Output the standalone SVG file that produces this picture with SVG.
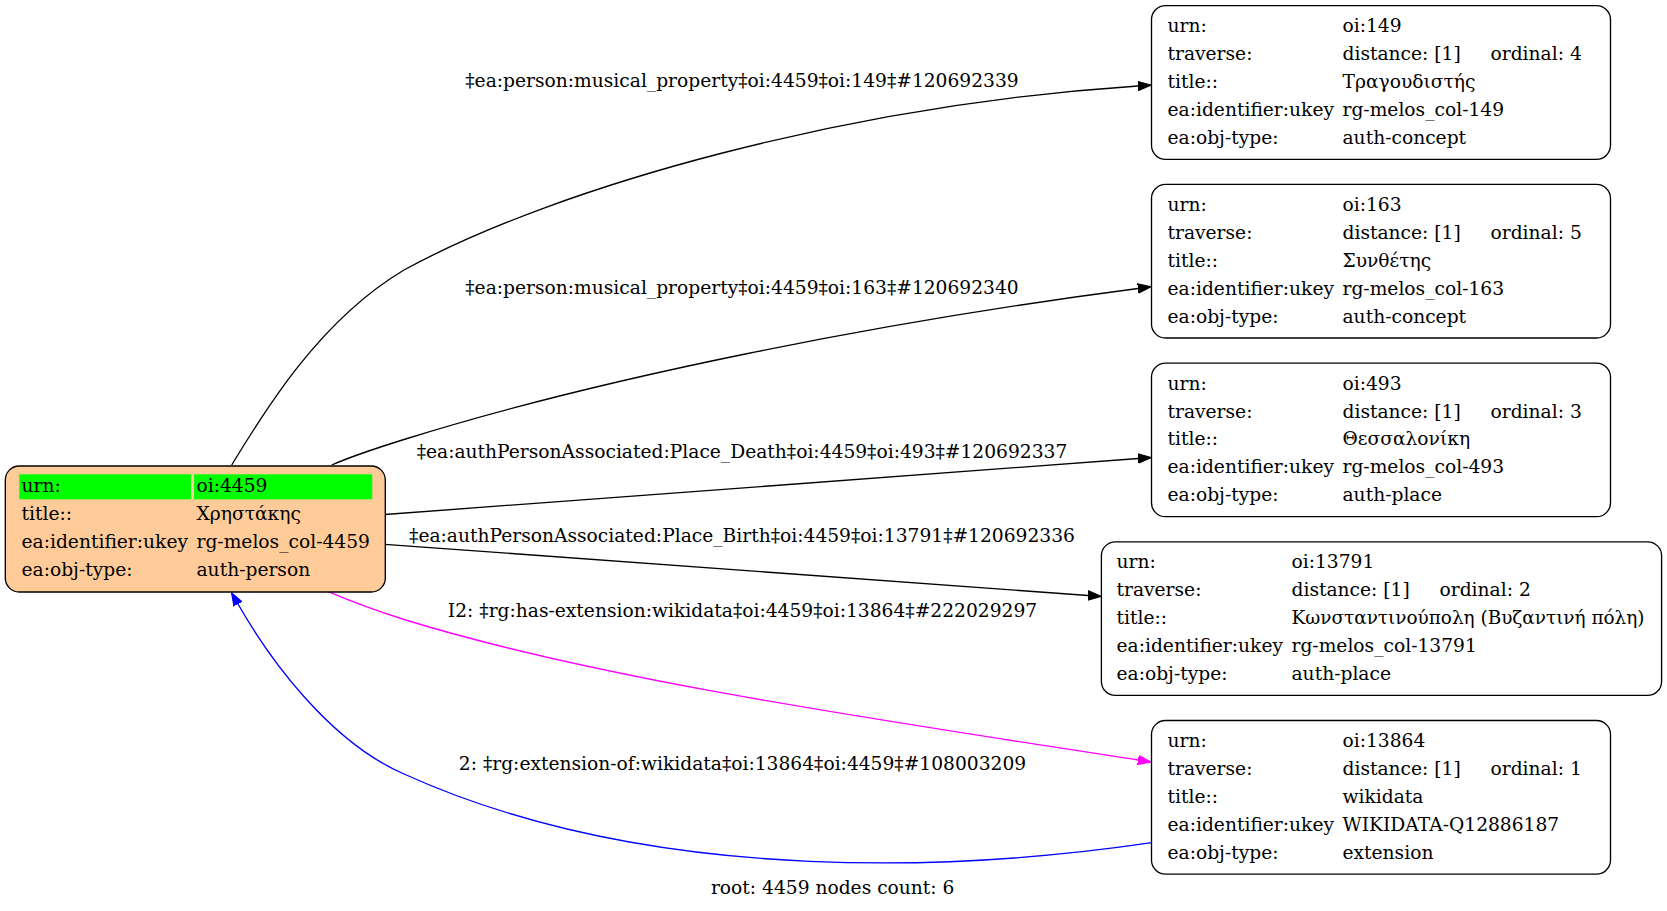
<svg xmlns="http://www.w3.org/2000/svg" width="1667" height="911" viewBox="0 0 1667 911">
<style>
text{font-family:"DejaVu Serif","Liberation Serif",serif;font-size:18.67px;fill:#000}
.lbl{text-anchor:middle}
.box{fill:#fff;stroke:#000;stroke-width:1.33}
.root{fill:#ffcc99;stroke:#000;stroke-width:1.33}
.e{fill:none;stroke-width:1.33}
</style>
<defs>
<marker id="ak" markerUnits="userSpaceOnUse" markerWidth="15" markerHeight="11" refX="0" refY="0" orient="auto" viewBox="0 -5.5 15 11"><path d="M0,-4.7 L13.3,0 L0,4.7 z" fill="#000" stroke="#000" stroke-width="1"/></marker>
<marker id="am" markerUnits="userSpaceOnUse" markerWidth="15" markerHeight="11" refX="0" refY="0" orient="auto" viewBox="0 -5.5 15 11"><path d="M0,-4.7 L13.3,0 L0,4.7 z" fill="#ff00ff" stroke="#ff00ff" stroke-width="1"/></marker>
<marker id="ab" markerUnits="userSpaceOnUse" markerWidth="15" markerHeight="11" refX="0" refY="0" orient="auto" viewBox="0 -5.5 15 11"><path d="M0,-4.7 L13.3,0 L0,4.7 z" fill="#0000ff" stroke="#0000ff" stroke-width="1"/></marker>
</defs>
<rect width="1667" height="911" fill="#fff"/>
<g id="edges">
<path class="e" stroke="#000" marker-end="url(#ak)" d="M231.7,465 C265,410 320,320 404,270 C560,185 850,105 1138,86"/>
<path class="e" stroke="#000" marker-end="url(#ak)" d="M331.7,465 C350,457 380,447 404,439.5 C600,378 880,322 1138,288.5"/>
<path class="e" stroke="#000" marker-end="url(#ak)" d="M384.8,514.5 L1138.2,458.5"/>
<path class="e" stroke="#000" marker-end="url(#ak)" d="M384.8,544.3 L1088.1,595.5"/>
<path class="e" stroke="#ff00ff" marker-end="url(#am)" d="M328.3,591.7 C350,601 380,612 404,619.5 C600,680 880,720 1138,760"/>
<path class="e" stroke="#0000ff" marker-end="url(#ab)" d="M1151.7,842.7 C980,868 660,890 404,774 C330,742 270,660 238,604"/>
<text class="lbl" x="742" y="87">‡ea:person:musical_property‡oi:4459‡oi:149‡#120692339</text>
<text class="lbl" x="742" y="294">‡ea:person:musical_property‡oi:4459‡oi:163‡#120692340</text>
<text class="lbl" x="742" y="458">‡ea:authPersonAssociated:Place_Death‡oi:4459‡oi:493‡#120692337</text>
<text class="lbl" x="742" y="541.5">‡ea:authPersonAssociated:Place_Birth‡oi:4459‡oi:13791‡#120692336</text>
<text class="lbl" x="742.5" y="616.5">I2: ‡rg:has-extension:wikidata‡oi:4459‡oi:13864‡#222029297</text>
<text class="lbl" x="742.5" y="770">2: ‡rg:extension-of:wikidata‡oi:13864‡oi:4459‡#108003209</text>
</g>
<g id="n4459">
<rect class="root" x="5.3" y="466" width="380" height="126" rx="14"/>
<rect x="19.3" y="474.3" width="171.7" height="25" fill="#00ff00"/>
<rect x="194" y="474.3" width="178.3" height="25" fill="#00ff00"/>
<text x="21.5" y="492">urn:</text><text x="196.5" y="492">oi:4459</text>
<text x="21.5" y="520">title::</text><text x="196.5" y="520">Χρηστάκης</text>
<text x="21.5" y="548">ea:identifier:ukey</text><text x="196.5" y="548">rg-melos_col-4459</text>
<text x="21.5" y="576">ea:obj-type:</text><text x="196.5" y="576">auth-person</text>
</g>
<g id="n149">
<rect class="box" x="1151.5" y="5.7" width="459" height="153.6" rx="14"/>
<text x="1167.5" y="32.2">urn:</text><text x="1342.5" y="32.2">oi:149</text>
<text x="1167.5" y="60.1">traverse:</text><text x="1342.5" y="60.1">distance: [1]</text><text x="1490.5" y="60.1">ordinal: 4</text>
<text x="1167.5" y="88">title::</text><text x="1342.5" y="88">Τραγουδιστής</text>
<text x="1167.5" y="115.9">ea:identifier:ukey</text><text x="1342.5" y="115.9">rg-melos_col-149</text>
<text x="1167.5" y="143.8">ea:obj-type:</text><text x="1342.5" y="143.8">auth-concept</text>
</g>
<g id="n163">
<rect class="box" x="1151.5" y="184.4" width="459" height="153.6" rx="14"/>
<text x="1167.5" y="210.9">urn:</text><text x="1342.5" y="210.9">oi:163</text>
<text x="1167.5" y="238.8">traverse:</text><text x="1342.5" y="238.8">distance: [1]</text><text x="1490.5" y="238.8">ordinal: 5</text>
<text x="1167.5" y="266.7">title::</text><text x="1342.5" y="266.7">Συνθέτης</text>
<text x="1167.5" y="294.6">ea:identifier:ukey</text><text x="1342.5" y="294.6">rg-melos_col-163</text>
<text x="1167.5" y="322.5">ea:obj-type:</text><text x="1342.5" y="322.5">auth-concept</text>
</g>
<g id="n493">
<rect class="box" x="1151.5" y="363.1" width="459" height="153.6" rx="14"/>
<text x="1167.5" y="389.6">urn:</text><text x="1342.5" y="389.6">oi:493</text>
<text x="1167.5" y="417.5">traverse:</text><text x="1342.5" y="417.5">distance: [1]</text><text x="1490.5" y="417.5">ordinal: 3</text>
<text x="1167.5" y="445.4">title::</text><text x="1342.5" y="445.4">Θεσσαλονίκη</text>
<text x="1167.5" y="473.3">ea:identifier:ukey</text><text x="1342.5" y="473.3">rg-melos_col-493</text>
<text x="1167.5" y="501.2">ea:obj-type:</text><text x="1342.5" y="501.2">auth-place</text>
</g>
<g id="n13791">
<rect class="box" x="1101.4" y="541.8" width="560.2" height="153.6" rx="14"/>
<text x="1116.5" y="568.3">urn:</text><text x="1291.5" y="568.3">oi:13791</text>
<text x="1116.5" y="596.2">traverse:</text><text x="1291.5" y="596.2">distance: [1]</text><text x="1439.5" y="596.2">ordinal: 2</text>
<text x="1116.5" y="624.1">title::</text><text x="1291.5" y="624.1" textLength="353" lengthAdjust="spacingAndGlyphs">Κωνσταντινούπολη (Βυζαντινή πόλη)</text>
<text x="1116.5" y="652">ea:identifier:ukey</text><text x="1291.5" y="652">rg-melos_col-13791</text>
<text x="1116.5" y="679.9">ea:obj-type:</text><text x="1291.5" y="679.9">auth-place</text>
</g>
<g id="n13864">
<rect class="box" x="1151.5" y="720.5" width="459" height="153.6" rx="14"/>
<text x="1167.5" y="747">urn:</text><text x="1342.5" y="747">oi:13864</text>
<text x="1167.5" y="774.9">traverse:</text><text x="1342.5" y="774.9">distance: [1]</text><text x="1490.5" y="774.9">ordinal: 1</text>
<text x="1167.5" y="802.8">title::</text><text x="1342.5" y="802.8">wikidata</text>
<text x="1167.5" y="830.7">ea:identifier:ukey</text><text x="1342.5" y="830.7">WIKIDATA-Q12886187</text>
<text x="1167.5" y="858.6">ea:obj-type:</text><text x="1342.5" y="858.6">extension</text>
</g>
<text class="lbl" x="832.7" y="894">root: 4459 nodes count: 6</text>
</svg>
